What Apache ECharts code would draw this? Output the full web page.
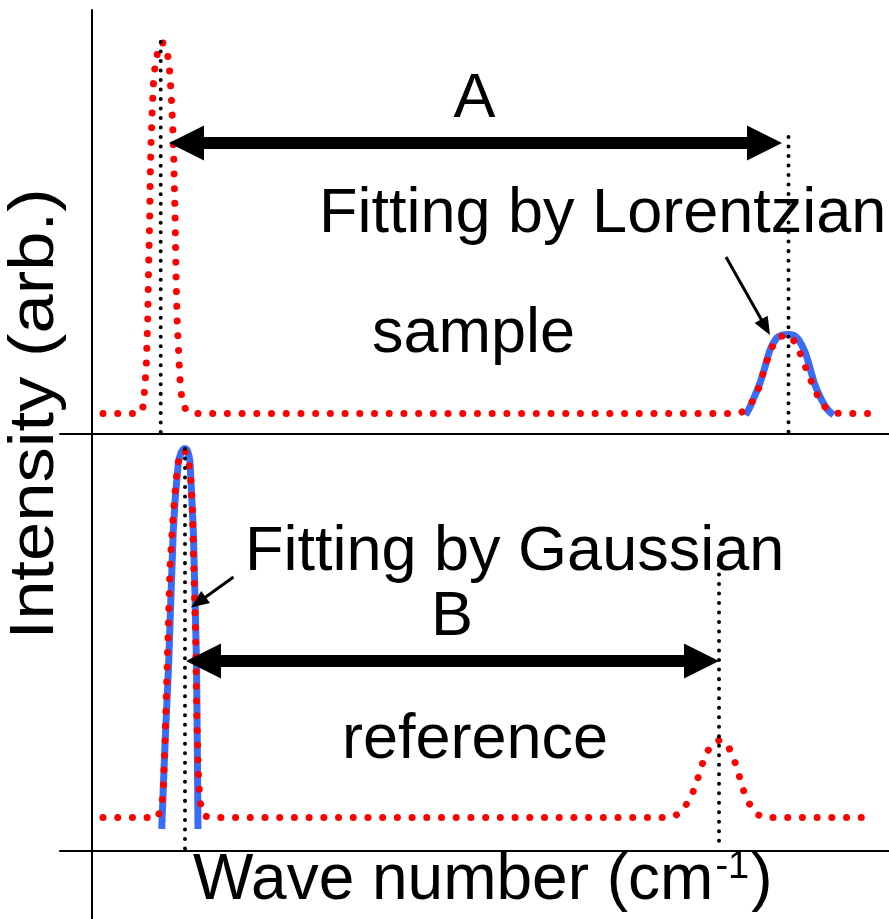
<!DOCTYPE html>
<html>
<head>
<meta charset="utf-8">
<script src="https://cdn.jsdelivr.net/npm/echarts@6.0.0/dist/echarts.min.js"></script>
<style>
  html, body { margin: 0; padding: 0; background: #ffffff; }
  #chart { width: 889px; height: 919px; }
</style>
</head>
<body>
<div id="chart"></div>
<script>
// ---------------- data (wave number: arbitrary units, intensity: arbitrary units) ----------------
// Top panel: sample spectrum (red dotted)
const sampleWave = [11, 47, 49.5, 50.7, 52.3, 54.3, 55.7, 56.7, 57.7, 58.3, 59, 60, 61.3, 62.3, 64.7, 66.5, 68.7, 71, 73, 75.3, 77.3, 79.3, 80.7, 81.7, 82.3, 83, 83.7, 84.3, 85, 86.3, 87.7, 88.7, 90.7, 94, 99, 104, 642, 650, 656.3, 663.7, 669, 672.3, 677.3, 683, 689, 694.7, 699, 705, 710.3, 715.7, 721.3, 727.3, 733, 737.3, 744, 751.3, 782];
const sampleIntensity = [20.5, 20.5, 22, 25.3, 39.7, 69, 113, 172, 216, 260, 289, 319, 348, 362, 377, 386, 391.5, 391, 388, 381.7, 367.3, 338, 308, 279, 250, 220.7, 176.7, 147.3, 118, 89, 59.7, 44.7, 30.7, 24, 20.7, 20.5, 20.5, 22, 26.3, 38, 52, 65.7, 80, 93.3, 97.5, 99.3, 97, 89, 75, 61.3, 47.7, 34.7, 27, 24, 21, 20.5, 20.5];
// Top panel: Lorentzian fit (blue)
const lorentzWave = [653.5, 657, 661, 668, 673, 678, 684.7, 690, 696, 702, 706.3, 713, 718, 723, 729.7, 736, 741.5];
const lorentzIntensity = [19, 25, 34, 51, 67, 84, 96, 99, 99.5, 98.5, 94.7, 82, 66, 49, 34, 24, 19];
// Bottom panel: reference spectrum (red dotted)
const referenceWave = [11, 66, 68, 70.3, 71.3, 73, 74.7, 78, 80.7, 83, 85.7, 89, 93, 97, 98.7, 100.3, 103.7, 104.7, 106.3, 108, 112, 118, 575, 582, 588, 593, 600.3, 605.3, 609.7, 614.7, 620, 624, 628, 632, 636.3, 642.3, 646.7, 650.7, 656, 664.3, 672, 782];
const referenceIntensity = [33.5, 33.5, 35.3, 50.3, 64.3, 109.3, 168, 284.3, 328.7, 358.3, 387, 397, 400.5, 387, 372.7, 343.3, 211, 137.7, 77.7, 49.3, 35.3, 33.5, 33.5, 35, 38, 44.3, 57, 71, 85.3, 98.7, 106, 109.7, 111, 109, 104.7, 91, 77, 62.7, 49.3, 37, 33.5, 33.5];
// Bottom panel: Gaussian fit (blue)
const gaussWave = [69.7, 73, 76.7, 81.3, 86.3, 89, 91, 93, 95, 97, 98, 101.3, 104.5, 106];
const gaussIntensity = [22, 106, 188, 321, 388, 398, 401.5, 402.5, 401, 395, 388, 321, 188, 22];
// Peak-position guide lines (black dotted): wave number and top intensity
const sampleGuideWave = [68.7, 696.5];
const sampleGuideTop = [392, 297];
const referenceGuideWave = [93, 627];
const referenceGuideTop = [402, 286];
// Distance arrows A and B: [from wave, to wave], intensity level
const arrowAWave = [77, 690];
const arrowALevel = 291;
const arrowBWave = [94, 627];
const arrowBLevel = 190;
// Pointer arrows to fits: [start wave, start intensity, tip wave, tip intensity]
const lorentzPointer = [634, 177, 678, 99];
const gaussPointer = [141.5, 274, 99, 243.5];
// Texts
const labelA = 'A';
const labelB = 'B';
const labelLorentz = 'Fitting by Lorentzian';
const labelGauss = 'Fitting by Gaussian';
const labelSample = 'sample';
const labelReference = 'reference';
const yAxisTitle = 'Intensity (arb.)';
const xAxisTitleMain = 'Wave number (cm';
const xAxisTitleSup = '-1';

// ---------------- helpers ----------------
const zip = (xs, ys) => xs.map((x, i) => [x, ys[i]]);
const FONT = '"Liberation Sans", Arial, sans-serif';
const RED = '#ff0000';
const BLUE = '#3b6cf5';

function renderArrow(params, api) {
  const p1 = api.coord([api.value(0), api.value(1)]);
  const p2 = api.coord([api.value(2), api.value(3)]);
  const kind = api.value(4);
  if (kind === 1) {
    const y = p1[1], L = 35, H = 17.5, t = 6;
    return {
      type: 'polygon',
      shape: { points: [
        [p1[0], y], [p1[0] + L, y - H], [p1[0] + L, y - t], [p2[0] - L, y - t], [p2[0] - L, y - H],
        [p2[0], y], [p2[0] - L, y + H], [p2[0] - L, y + t], [p1[0] + L, y + t], [p1[0] + L, y + H]
      ] },
      style: { fill: '#000' }
    };
  }
  const dx = p2[0] - p1[0], dy = p2[1] - p1[1], len = Math.hypot(dx, dy);
  const ux = dx / len, uy = dy / len, L = 18, W = 7.5;
  const bx = p2[0] - ux * L, by = p2[1] - uy * L;
  return {
    type: 'group',
    children: [
      { type: 'line', shape: { x1: p1[0], y1: p1[1], x2: bx + ux * 2, y2: by + uy * 2 }, style: { stroke: '#000', lineWidth: 3 } },
      { type: 'polygon', shape: { points: [[p2[0], p2[1]], [bx - uy * W, by + ux * W], [bx + uy * W, by - ux * W]] }, style: { fill: '#000' } }
    ]
  };
}

function guideSeries(idx, wave, top, name) {
  return wave.map((w, i) => ({
    name: name + i, type: 'line', xAxisIndex: idx, yAxisIndex: idx, z: 4,
    data: [[w, top[i]], [w, 1]], showSymbol: false, silent: true,
    lineStyle: { color: '#000', width: 4, type: [0.01, 9.5], cap: 'round' }
  }));
}

const axisLineStyle = { show: true, onZero: true, lineStyle: { color: '#000', width: 2 } };
const hidden = { axisTick: { show: false }, axisLabel: { show: false }, splitLine: { show: false } };

const chart = echarts.init(document.getElementById('chart'), null, { renderer: 'canvas' });
chart.setOption({
  animation: false,
  backgroundColor: '#ffffff',
  grid: [
    { left: 60, right: 0, top: 10, height: 424 },
    { left: 60, right: 0, top: 434, height: 485 }
  ],
  xAxis: [
    Object.assign({ type: 'value', gridIndex: 0, min: -32, max: 797, axisLine: axisLineStyle }, hidden),
    Object.assign({ type: 'value', gridIndex: 1, min: -32, max: 797, axisLine: axisLineStyle }, hidden)
  ],
  yAxis: [
    Object.assign({ type: 'value', gridIndex: 0, min: 0, max: 424, axisLine: axisLineStyle }, hidden),
    Object.assign({ type: 'value', gridIndex: 1, min: -68, max: 417, axisLine: axisLineStyle }, hidden)
  ],
  series: [
    { name: 'Lorentzian fit', type: 'line', xAxisIndex: 0, yAxisIndex: 0, z: 2, data: zip(lorentzWave, lorentzIntensity),
      showSymbol: false, smooth: 0.3, lineStyle: { color: BLUE, width: 7, cap: 'butt', join: 'round' } },
    { name: 'sample', type: 'line', xAxisIndex: 0, yAxisIndex: 0, z: 3, data: zip(sampleWave, sampleIntensity),
      showSymbol: false, lineStyle: { color: RED, width: 7, type: [0.01, 14.7], cap: 'round', join: 'round' } },
    { name: 'Gaussian fit', type: 'line', xAxisIndex: 1, yAxisIndex: 1, z: 2, data: zip(gaussWave, gaussIntensity),
      showSymbol: false, smooth: 0.15, lineStyle: { color: BLUE, width: 7, cap: 'butt', join: 'round' } },
    { name: 'reference', type: 'line', xAxisIndex: 1, yAxisIndex: 1, z: 3, data: zip(referenceWave, referenceIntensity),
      showSymbol: false, lineStyle: { color: RED, width: 7, type: [0.01, 14.7], cap: 'round', join: 'round' } },
    ...guideSeries(0, sampleGuideWave, sampleGuideTop, 'sampleGuide'),
    ...guideSeries(1, referenceGuideWave, referenceGuideTop, 'referenceGuide'),
    { name: 'arrowsTop', type: 'custom', xAxisIndex: 0, yAxisIndex: 0, z: 5, renderItem: renderArrow,
      encode: { x: [0, 2], y: [1, 3] },
      data: [[arrowAWave[0], arrowALevel, arrowAWave[1], arrowALevel, 1], lorentzPointer.concat([0])] },
    { name: 'arrowsBottom', type: 'custom', xAxisIndex: 1, yAxisIndex: 1, z: 5, renderItem: renderArrow,
      encode: { x: [0, 2], y: [1, 3] },
      data: [[arrowBWave[0], arrowBLevel, arrowBWave[1], arrowBLevel, 1], gaussPointer.concat([0])] }
  ],
  graphic: [
    { type: 'text', x: 474.5, y: 100, z: 10, style: { text: labelA, font: '63px ' + FONT, fill: '#000', align: 'center', verticalAlign: 'middle' } },
    { type: 'text', x: 319, y: 215, z: 10, style: { text: labelLorentz, font: '63px ' + FONT, fill: '#000', align: 'left', verticalAlign: 'middle' } },
    { type: 'text', x: 372, y: 335, z: 10, style: { text: labelSample, font: '63px ' + FONT, fill: '#000', align: 'left', verticalAlign: 'middle' } },
    { type: 'text', x: 245, y: 553, z: 10, style: { text: labelGauss, font: '63px ' + FONT, fill: '#000', align: 'left', verticalAlign: 'middle' } },
    { type: 'text', x: 452, y: 618, z: 10, style: { text: labelB, font: '63px ' + FONT, fill: '#000', align: 'center', verticalAlign: 'middle' } },
    { type: 'text', x: 342, y: 741, z: 10, style: { text: labelReference, font: '63px ' + FONT, fill: '#000', align: 'left', verticalAlign: 'middle' } },
    { type: 'text', x: 36, y: 414, rotation: Math.PI / 2, scaleX: 1.12, z: 10,
      style: { text: yAxisTitle, font: '63px ' + FONT, fill: '#000', align: 'center', verticalAlign: 'middle' } },
    { type: 'text', x: 193, y: 881, z: 10,
      style: {
        text: '{m|' + xAxisTitleMain + '}{s|' + xAxisTitleSup + '}{m|)}',
        fill: '#000', align: 'left', verticalAlign: 'middle',
        rich: {
          m: { fontSize: 64, fontFamily: FONT, fill: '#000' },
          s: { fontSize: 38, fontFamily: FONT, fill: '#000', verticalAlign: 'top', padding: [0, 2, 0, 2] }
        }
      } }
  ]
});
</script>
</body>
</html>
